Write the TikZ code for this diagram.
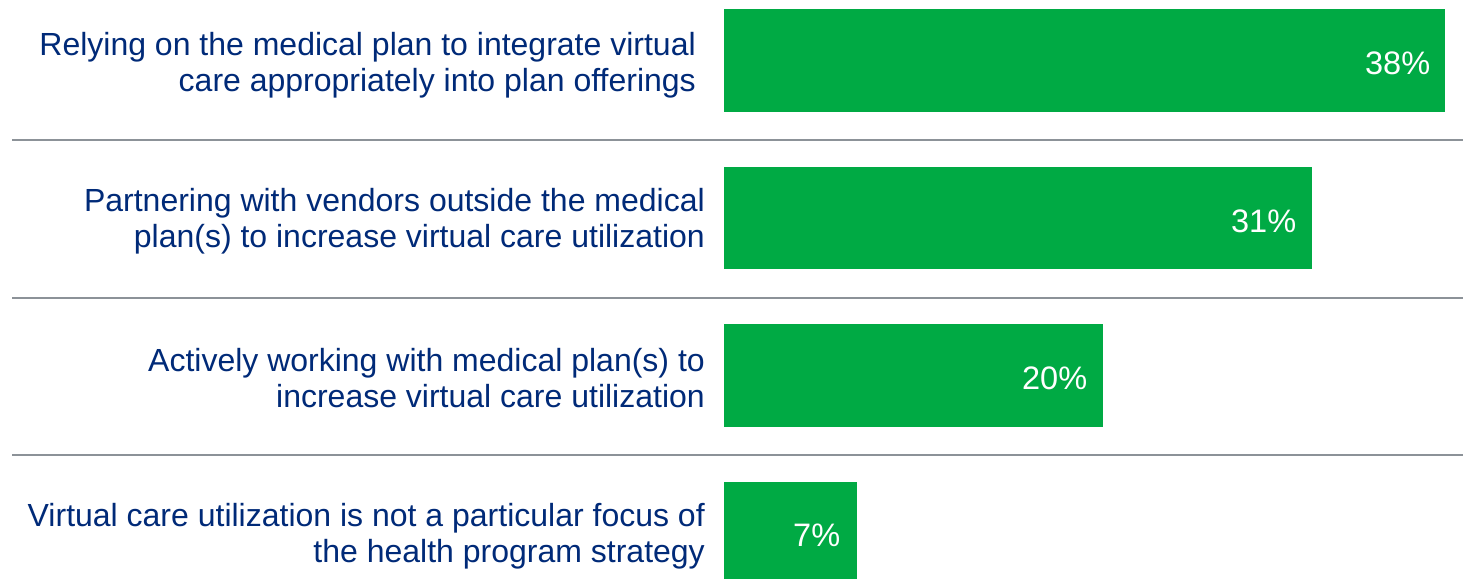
\documentclass[tikz,border=0pt]{standalone}
\usepackage{fontspec}
\setmainfont{Liberation Sans}
\definecolor{bargreen}{RGB}{0,170,68}
\definecolor{navy}{RGB}{0,42,120}
\definecolor{sepgrey}{RGB}{140,146,152}
\begin{document}
\begin{tikzpicture}[x=1pt,y=-1pt,
  bar/.style={fill=bargreen,draw=none,inner sep=0pt,anchor=north west},
  lbl/.style={text=navy,align=right,anchor=east,inner sep=0pt,font=\fontsize{32}{35.8}\selectfont},
  pct/.style={text=white,anchor=east,inner sep=0pt,font=\fontsize{32.5}{36}\selectfont},
  sep/.style={draw=sepgrey,line width=1.6pt}]
\useasboundingbox (0,0) rectangle (1463,579);
\fill[white] (0,0) rectangle (1463,579);
% bars
\node[bar,minimum width=721pt,minimum height=103pt] (b1) at (724,9) {};
\node[bar,minimum width=588pt,minimum height=102pt] (b2) at (724,167) {};
\node[bar,minimum width=379pt,minimum height=103pt] (b3) at (724,324) {};
\node[bar,minimum width=133pt,minimum height=97pt] (b4) at (724,482) {};
% percentages
\node[pct] (p1) at ([xshift=-15pt,yshift=-3pt]b1.east) {38\%};
\node[pct] (p2) at ([xshift=-16pt,yshift=-3pt]b2.east) {31\%};
\node[pct] (p3) at ([xshift=-16pt,yshift=-3pt]b3.east) {20\%};
\node[pct] (p4) at ([xshift=-17pt,yshift=-5pt]b4.east) {7\%};
% labels
\node[lbl] (l1) at (696,65) {Relying on the medical plan to integrate virtual\\care appropriately into plan offerings};
\node[lbl] (l2) at (705,221) {Partnering with vendors outside the medical\\plan(s) to increase virtual care utilization};
\node[lbl] (l3) at (705,378) {Actively working with medical plan(s) to\\increase virtual care utilization};
\node[lbl] (l4) at (705,536) {Virtual care utilization is not a particular focus of\\the health program strategy};
% separators
\coordinate (s1a) at (12,140); \coordinate (s1b) at (1463,140);
\coordinate (s2a) at (12,298); \coordinate (s2b) at (1463,298);
\coordinate (s3a) at (12,455); \coordinate (s3b) at (1463,455);
\draw[sep] (s1a) -- (s1b);
\draw[sep] (s2a) -- (s2b);
\draw[sep] (s3a) -- (s3b);
\end{tikzpicture}
\end{document}
